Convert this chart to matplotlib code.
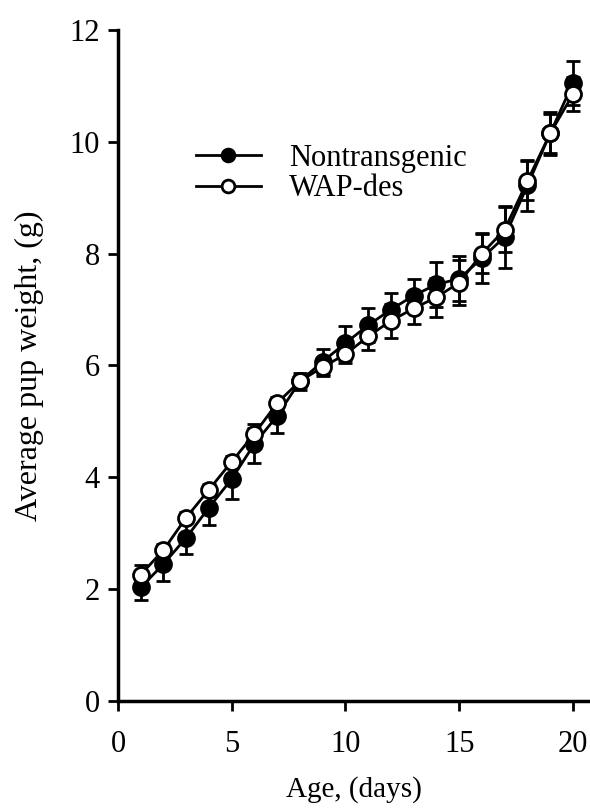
import matplotlib
matplotlib.use("Agg")
import matplotlib.pyplot as plt

# pup weight by age
days = list(range(1, 21))

nontransgenic = [2.03, 2.45, 2.92, 3.46, 3.97, 4.60, 5.10, 5.72, 6.07, 6.40,
                 6.72, 7.00, 7.25, 7.45, 7.55, 7.92, 8.30, 9.22, 10.15, 11.05]
nontransgenic_err = [0.22, 0.30, 0.30, 0.32, 0.35, 0.35, 0.30, 0.15, 0.22, 0.30,
                     0.30, 0.30, 0.30, 0.40, 0.40, 0.45, 0.55, 0.45, 0.35, 0.40]

wap_des = [2.26, 2.70, 3.28, 3.78, 4.28, 4.78, 5.33, 5.72, 5.97, 6.20,
           6.52, 6.80, 7.02, 7.22, 7.48, 8.00, 8.43, 9.30, 10.15, 10.85]
wap_des_err = [0.17, 0.10, 0.10, 0.10, 0.10, 0.10, 0.10, 0.10, 0.15, 0.15,
               0.25, 0.30, 0.28, 0.35, 0.40, 0.35, 0.40, 0.35, 0.38, 0.30]

plt.rcParams['font.family'] = ['Liberation Serif', 'DejaVu Serif']

fig = plt.figure(figsize=(5.9, 8.09), dpi=100)
ax = fig.add_axes([0.2, 0.1335, 0.8, 0.8295])

ax.errorbar(days, nontransgenic, yerr=nontransgenic_err, color='black',
            marker='o', markersize=11.5, markerfacecolor='black',
            markeredgecolor='black', markeredgewidth=2, linewidth=2,
            elinewidth=2, capsize=5, capthick=2, label='Nontransgenic', zorder=3)
ax.errorbar(days, wap_des, yerr=wap_des_err, color='black',
            marker='o', markersize=11.5, markerfacecolor='white',
            markeredgecolor='black', markeredgewidth=2, linewidth=2,
            elinewidth=2, capsize=5, capthick=2, label='WAP-des', zorder=4)

ax.set_xlim(0, 20.75)
ax.set_ylim(0, 12)
ax.set_xticks([0, 5, 10, 15, 20])
ax.set_yticks([0, 2, 4, 6, 8, 10, 12])

for side in ['top', 'right']:
    ax.spines[side].set_visible(False)
for side in ['left', 'bottom']:
    ax.spines[side].set_linewidth(2.5)
ax.spines['left'].set_bounds(0, 12)

ax.tick_params(direction='out', length=7, width=2)
ax.tick_params(axis='y', labelsize=22, pad=6)
ax.tick_params(axis='x', labelsize=22, pad=14)
ax.set_xlabel('Age, (days)', fontsize=21, labelpad=12)
ax.set_ylabel('Average pup weight, (g)', fontsize=23, labelpad=18)

handles, labels = ax.get_legend_handles_labels()
handles = [h[0] for h in handles]
ax.legend(handles, labels, loc='center left', bbox_to_anchor=(0.106, 0.786),
          frameon=False, fontsize=22, handlelength=2.15, markerscale=0.8,
          labelspacing=0.05, handletextpad=0.9)

fig.savefig('out.png', dpi=100)
